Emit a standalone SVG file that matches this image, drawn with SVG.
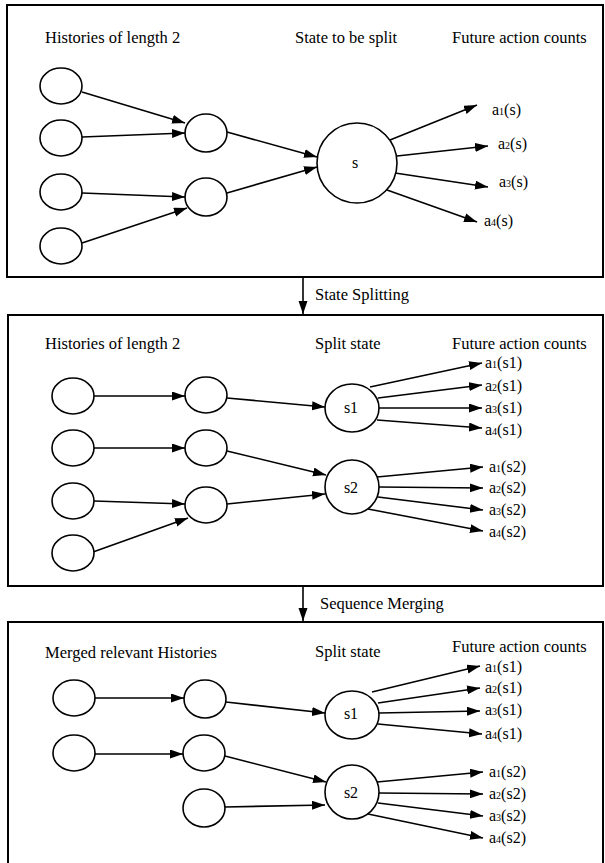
<svg xmlns="http://www.w3.org/2000/svg" width="605" height="863" viewBox="0 0 605 863">
<style>
text{font-family:"Liberation Serif","Times New Roman",serif;font-size:16.5px;fill:#000}
.lbl{font-size:16px}
.sub{font-size:10px}
.panel{fill:none;stroke:#000;stroke-width:2}
.node{fill:#fff;stroke:#000;stroke-width:1.6}
.edge{stroke:#000;stroke-width:1.6;fill:none;marker-end:url(#ah)}
</style>
<defs>
<marker id="ah" markerUnits="userSpaceOnUse" markerWidth="14" markerHeight="10" refX="13" refY="4.5" orient="auto">
<path d="M0,0 L13,4.5 L0,9 Z" fill="#000"/>
</marker>
</defs>
<rect width="605" height="863" fill="#fff"/>
<g id="panels">
<rect class="panel" x="7" y="5" width="596" height="272"/>
<rect class="panel" x="8" y="315" width="595" height="271"/>
<rect class="panel" x="8" y="622" width="595" height="260"/>
</g>
<g id="headers">
<text x="45" y="43">Histories of length 2</text>
<text x="295" y="43">State to be split</text>
<text x="452" y="43">Future action counts</text>
<text x="45" y="349">Histories of length 2</text>
<text x="315" y="349">Split state</text>
<text x="452" y="349">Future action counts</text>
<text x="45" y="658">Merged relevant Histories</text>
<text x="315" y="657">Split state</text>
<text x="452" y="652">Future action counts</text>
<text x="315" y="300">State Splitting</text>
<text x="320" y="609">Sequence Merging</text>
</g>
<g id="connectors">
<line class="edge" x1="303" y1="277" x2="303" y2="314"/>
<line class="edge" x1="303" y1="586" x2="303" y2="621"/>
<line class="edge" x1="82" y1="92" x2="185" y2="123"/>
<line class="edge" x1="82" y1="137" x2="185" y2="133"/>
<line class="edge" x1="82" y1="193" x2="185" y2="197"/>
<line class="edge" x1="82" y1="243" x2="187" y2="208"/>
<line class="edge" x1="227" y1="132" x2="317" y2="157"/>
<line class="edge" x1="227" y1="193" x2="317" y2="167"/>
<line class="edge" x1="390" y1="140" x2="477" y2="105"/>
<line class="edge" x1="397" y1="156" x2="488" y2="146"/>
<line class="edge" x1="395" y1="173" x2="488" y2="187"/>
<line class="edge" x1="387" y1="190" x2="477" y2="222"/>
<line class="edge" x1="94" y1="396" x2="185" y2="396"/>
<line class="edge" x1="94" y1="448" x2="185" y2="448"/>
<line class="edge" x1="94" y1="501" x2="185" y2="504"/>
<line class="edge" x1="93" y1="552" x2="188" y2="518"/>
<line class="edge" x1="227" y1="398" x2="325" y2="407"/>
<line class="edge" x1="227" y1="451" x2="326" y2="475"/>
<line class="edge" x1="227" y1="504" x2="325" y2="494"/>
<line class="edge" x1="370" y1="387" x2="482" y2="363"/>
<line class="edge" x1="378" y1="398" x2="482" y2="385"/>
<line class="edge" x1="379" y1="408" x2="482" y2="408"/>
<line class="edge" x1="377" y1="420" x2="482" y2="428"/>
<line class="edge" x1="377" y1="477" x2="483" y2="467"/>
<line class="edge" x1="379" y1="487" x2="483" y2="488"/>
<line class="edge" x1="378" y1="497" x2="483" y2="510"/>
<line class="edge" x1="368" y1="509" x2="483" y2="531"/>
<line class="edge" x1="95" y1="698" x2="184" y2="698"/>
<line class="edge" x1="226" y1="702" x2="325" y2="713"/>
<line class="edge" x1="95" y1="754" x2="183" y2="754"/>
<line class="edge" x1="225" y1="756" x2="326" y2="782"/>
<line class="edge" x1="225" y1="807" x2="325" y2="805"/>
<line class="edge" x1="372" y1="692" x2="480" y2="666"/>
<line class="edge" x1="378" y1="703" x2="480" y2="688"/>
<line class="edge" x1="379" y1="713" x2="480" y2="711"/>
<line class="edge" x1="378" y1="724" x2="482" y2="734"/>
<line class="edge" x1="377" y1="782" x2="483" y2="772"/>
<line class="edge" x1="379" y1="793" x2="483" y2="794"/>
<line class="edge" x1="378" y1="803" x2="483" y2="816"/>
<line class="edge" x1="368" y1="814" x2="483" y2="838"/>
</g>
<g id="t-h1"><ellipse class="node" cx="61" cy="86" rx="21" ry="18"/></g>
<g id="t-h2"><ellipse class="node" cx="61" cy="138" rx="21" ry="18"/></g>
<g id="t-h3"><ellipse class="node" cx="61" cy="192" rx="21" ry="18"/></g>
<g id="t-h4"><ellipse class="node" cx="61" cy="246" rx="21" ry="18"/></g>
<g id="t-m1"><ellipse class="node" cx="206" cy="133" rx="21" ry="19"/></g>
<g id="t-m2"><ellipse class="node" cx="206" cy="197" rx="21" ry="19"/></g>
<g id="t-s"><circle class="node" cx="357" cy="163" r="40"/><text class="lbl" x="355" y="168" text-anchor="middle">s</text></g>
<g id="t-a1"><text class="lbl" x="492" y="115">a<tspan class="sub">1</tspan>(s)</text></g>
<g id="t-a2"><text class="lbl" x="498" y="149">a<tspan class="sub">2</tspan>(s)</text></g>
<g id="t-a3"><text class="lbl" x="499" y="187">a<tspan class="sub">3</tspan>(s)</text></g>
<g id="t-a4"><text class="lbl" x="484" y="226">a<tspan class="sub">4</tspan>(s)</text></g>
<g id="m-h1"><ellipse class="node" cx="73" cy="396" rx="21" ry="18"/></g>
<g id="m-h2"><ellipse class="node" cx="73" cy="448" rx="21" ry="18"/></g>
<g id="m-h3"><ellipse class="node" cx="73" cy="501" rx="21" ry="18"/></g>
<g id="m-h4"><ellipse class="node" cx="73" cy="553" rx="21" ry="18"/></g>
<g id="m-m1"><ellipse class="node" cx="206" cy="395" rx="21" ry="18"/></g>
<g id="m-m2"><ellipse class="node" cx="206" cy="448" rx="21" ry="18"/></g>
<g id="m-m3"><ellipse class="node" cx="206" cy="505" rx="21" ry="18"/></g>
<g id="m-s1"><ellipse class="node" cx="352" cy="408" rx="27" ry="24"/><text class="lbl" x="351" y="413" text-anchor="middle">s1</text></g>
<g id="m-s2"><circle class="node" cx="352" cy="487" r="27"/><text class="lbl" x="351" y="493" text-anchor="middle">s2</text></g>
<g id="m-a1s1"><text class="lbl" x="485" y="368">a<tspan class="sub">1</tspan>(s1)</text></g>
<g id="m-a2s1"><text class="lbl" x="485" y="391">a<tspan class="sub">2</tspan>(s1)</text></g>
<g id="m-a3s1"><text class="lbl" x="485" y="413">a<tspan class="sub">3</tspan>(s1)</text></g>
<g id="m-a4s1"><text class="lbl" x="485" y="435">a<tspan class="sub">4</tspan>(s1)</text></g>
<g id="m-a1s2"><text class="lbl" x="489" y="472">a<tspan class="sub">1</tspan>(s2)</text></g>
<g id="m-a2s2"><text class="lbl" x="489" y="493">a<tspan class="sub">2</tspan>(s2)</text></g>
<g id="m-a3s2"><text class="lbl" x="489" y="515">a<tspan class="sub">3</tspan>(s2)</text></g>
<g id="m-a4s2"><text class="lbl" x="489" y="537">a<tspan class="sub">4</tspan>(s2)</text></g>
<g id="b-h1"><ellipse class="node" cx="74" cy="698" rx="21" ry="18"/></g>
<g id="b-h2"><ellipse class="node" cx="74" cy="753" rx="21" ry="18"/></g>
<g id="b-m1"><ellipse class="node" cx="205" cy="699" rx="21" ry="19"/></g>
<g id="b-m2"><ellipse class="node" cx="204" cy="753" rx="21" ry="18"/></g>
<g id="b-m3"><ellipse class="node" cx="204" cy="808" rx="21" ry="19"/></g>
<g id="b-s1"><ellipse class="node" cx="352" cy="715" rx="27" ry="24"/><text class="lbl" x="351" y="719" text-anchor="middle">s1</text></g>
<g id="b-s2"><circle class="node" cx="352" cy="792" r="27"/><text class="lbl" x="351" y="798" text-anchor="middle">s2</text></g>
<g id="b-a1s1"><text class="lbl" x="485" y="672">a<tspan class="sub">1</tspan>(s1)</text></g>
<g id="b-a2s1"><text class="lbl" x="485" y="693">a<tspan class="sub">2</tspan>(s1)</text></g>
<g id="b-a3s1"><text class="lbl" x="485" y="715">a<tspan class="sub">3</tspan>(s1)</text></g>
<g id="b-a4s1"><text class="lbl" x="485" y="739">a<tspan class="sub">4</tspan>(s1)</text></g>
<g id="b-a1s2"><text class="lbl" x="489" y="777">a<tspan class="sub">1</tspan>(s2)</text></g>
<g id="b-a2s2"><text class="lbl" x="489" y="799">a<tspan class="sub">2</tspan>(s2)</text></g>
<g id="b-a3s2"><text class="lbl" x="489" y="821">a<tspan class="sub">3</tspan>(s2)</text></g>
<g id="b-a4s2"><text class="lbl" x="489" y="843">a<tspan class="sub">4</tspan>(s2)</text></g>
</svg>
